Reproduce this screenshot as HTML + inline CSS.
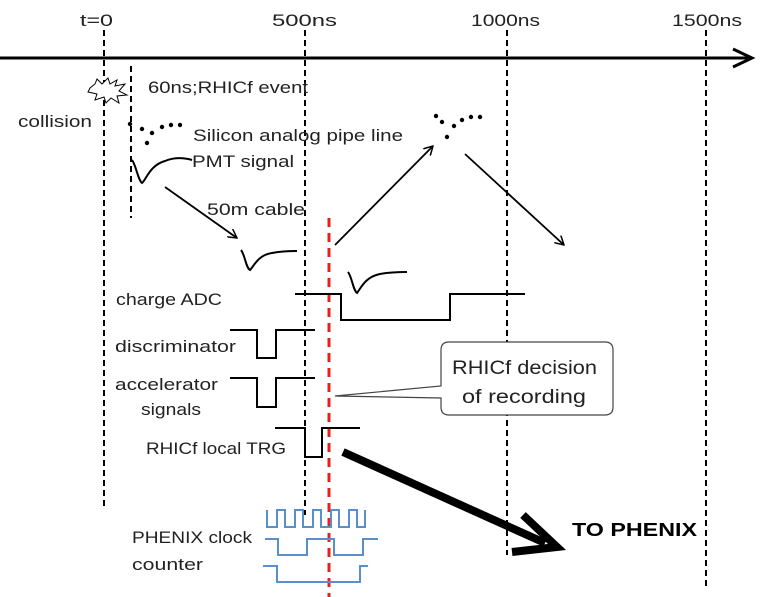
<!DOCTYPE html>
<html><head><style>body{margin:0;background:#fff}svg{display:block}text{font-family:"Liberation Sans",sans-serif;fill:#222}</style></head><body>
<svg width="763" height="597" viewBox="0 0 763 597">
<defs><marker id="a" markerWidth="10" markerHeight="10" refX="9" refY="5" orient="auto" markerUnits="userSpaceOnUse"><path d="M0,0 L9,5 L0,10" fill="none" stroke="#000" stroke-width="1.5"/></marker></defs>
<line x1="0" y1="58" x2="748" y2="58" stroke="#000" stroke-width="3"/>
<path d="M733,49 L752,58 L733,67" fill="none" stroke="#000" stroke-width="3"/>
<g font-size="17" lengthAdjust="spacingAndGlyphs"><text x="80" y="26" textLength="33" lengthAdjust="spacingAndGlyphs">t=0</text><text x="272" y="26" textLength="65" lengthAdjust="spacingAndGlyphs">500ns</text><text x="471" y="26" textLength="69" lengthAdjust="spacingAndGlyphs">1000ns</text><text x="672" y="26" textLength="70" lengthAdjust="spacingAndGlyphs">1500ns</text></g>
<g stroke="#000" stroke-width="2" stroke-dasharray="6,4" fill="none">
<line x1="104" y1="30" x2="104" y2="510"/><line x1="131" y1="66" x2="131" y2="218"/>
<line x1="305" y1="30" x2="305" y2="515"/><line x1="507" y1="30" x2="507" y2="555"/><line x1="706" y1="30" x2="706" y2="590"/></g>
<line x1="329" y1="218" x2="329" y2="597" stroke="#e8201c" stroke-width="3" stroke-dasharray="9,6"/>
<path d="M90,88 L95,84 L97,79 L102,84 L108,78 L110,84 L117,80 L115,86 L125,84 L119,91 L127,95 L117,96 L119,103 L111,98 L106,103 L104,97 L95,100 L97,94 L88,92 Z" fill="#fff" stroke="#000" stroke-width="1"/>
<g font-size="17">
<text x="148" y="93" textLength="160" lengthAdjust="spacingAndGlyphs">60ns;RHICf event</text>
<text x="18" y="127" textLength="74" lengthAdjust="spacingAndGlyphs">collision</text>
<text x="193" y="141" textLength="210" lengthAdjust="spacingAndGlyphs">Silicon analog pipe line</text>
<text x="192" y="167" textLength="102" lengthAdjust="spacingAndGlyphs">PMT signal</text>
<text x="207" y="215" textLength="98" lengthAdjust="spacingAndGlyphs">50m cable</text>
<text x="116" y="305" textLength="106" lengthAdjust="spacingAndGlyphs">charge ADC</text>
<text x="115" y="352" textLength="121" lengthAdjust="spacingAndGlyphs">discriminator</text>
<text x="115" y="390" textLength="103" lengthAdjust="spacingAndGlyphs">accelerator</text>
<text x="141" y="415" textLength="60" lengthAdjust="spacingAndGlyphs">signals</text>
<text x="146" y="454" textLength="140" lengthAdjust="spacingAndGlyphs">RHICf local TRG</text>
<text x="132" y="543" textLength="120" lengthAdjust="spacingAndGlyphs">PHENIX clock</text>
<text x="132" y="570" textLength="71" lengthAdjust="spacingAndGlyphs">counter</text></g>
<g fill="#000"><circle cx="130" cy="124" r="2.2"/><circle cx="142" cy="129" r="2.2"/><circle cx="152" cy="133" r="2.2"/><circle cx="147" cy="143" r="2.2"/><circle cx="162" cy="127" r="2.2"/><circle cx="171" cy="125" r="2.2"/><circle cx="180" cy="125" r="2.2"/>
<circle cx="436" cy="116" r="2.2"/><circle cx="442" cy="122" r="2.2"/><circle cx="454" cy="126" r="2.2"/><circle cx="447" cy="137" r="2.2"/><circle cx="462" cy="120" r="2.2"/><circle cx="471" cy="117" r="2.2"/><circle cx="480" cy="117" r="2.2"/></g>
<g fill="none" stroke="#000" stroke-width="2">
<path d="M132,160 C136,165 138,180 142,183 C146,180 150,165 165,161 C175,157 185,158 192,160"/>
<path d="M241,250 C245,255 246,268 250,270 C254,266 258,255 272,253 C282,251 290,251 297,251"/>
<path d="M348,272 C352,277 353,290 357,293 C361,288 365,277 380,274 C390,272 400,272 407,272"/>
<path d="M295,294 H341 V320 H450 V294 H525"/>
<path d="M230,330 H257 V358 H276 V330 H315"/>
<path d="M230,378 H257 V407 H276 V378 H315"/>
<path d="M275,428 H305 V457 H322 V428 H360"/></g>
<g stroke="#000" stroke-width="1.8" marker-end="url(#a)"><line x1="165" y1="187" x2="237" y2="238"/><line x1="335" y1="245" x2="433" y2="146"/><line x1="465" y1="154" x2="564" y2="245"/></g>
<line x1="343" y1="452" x2="545" y2="543" stroke="#000" stroke-width="8"/>
<path d="M523,515 L557,547 L512,552" fill="none" stroke="#000" stroke-width="8"/>
<text x="572" y="536" font-size="18" font-weight="bold" textLength="125" lengthAdjust="spacingAndGlyphs" style="fill:#000">TO PHENIX</text>
<path d="M449,342 H605 Q613,342 613,350 V407 Q613,415 605,415 H449 Q441,415 441,407 V398 L335,396 L441,386 V350 Q441,342 449,342 Z" fill="#fff" stroke="#444" stroke-width="1.2"/>
<g font-size="19"><text x="452" y="374" textLength="145" lengthAdjust="spacingAndGlyphs">RHICf decision</text><text x="462" y="403" textLength="124" lengthAdjust="spacingAndGlyphs">of recording</text></g>
<g fill="none" stroke="#5b8fc9" stroke-width="2">
<path d="M267,510 V527 H277 V510 H285 V527 H295 V510 H303 V527 H313 V510 H321 V527 H331 V510 H339 V527 H349 V510 H357 V527 H365 V510"/>
<path d="M265,539 H278 V555 H307 V539 H334 V555 H363 V539 H378"/>
<path d="M263,566 H277 V582 H360 V566 H368"/></g>
</svg></body></html>
